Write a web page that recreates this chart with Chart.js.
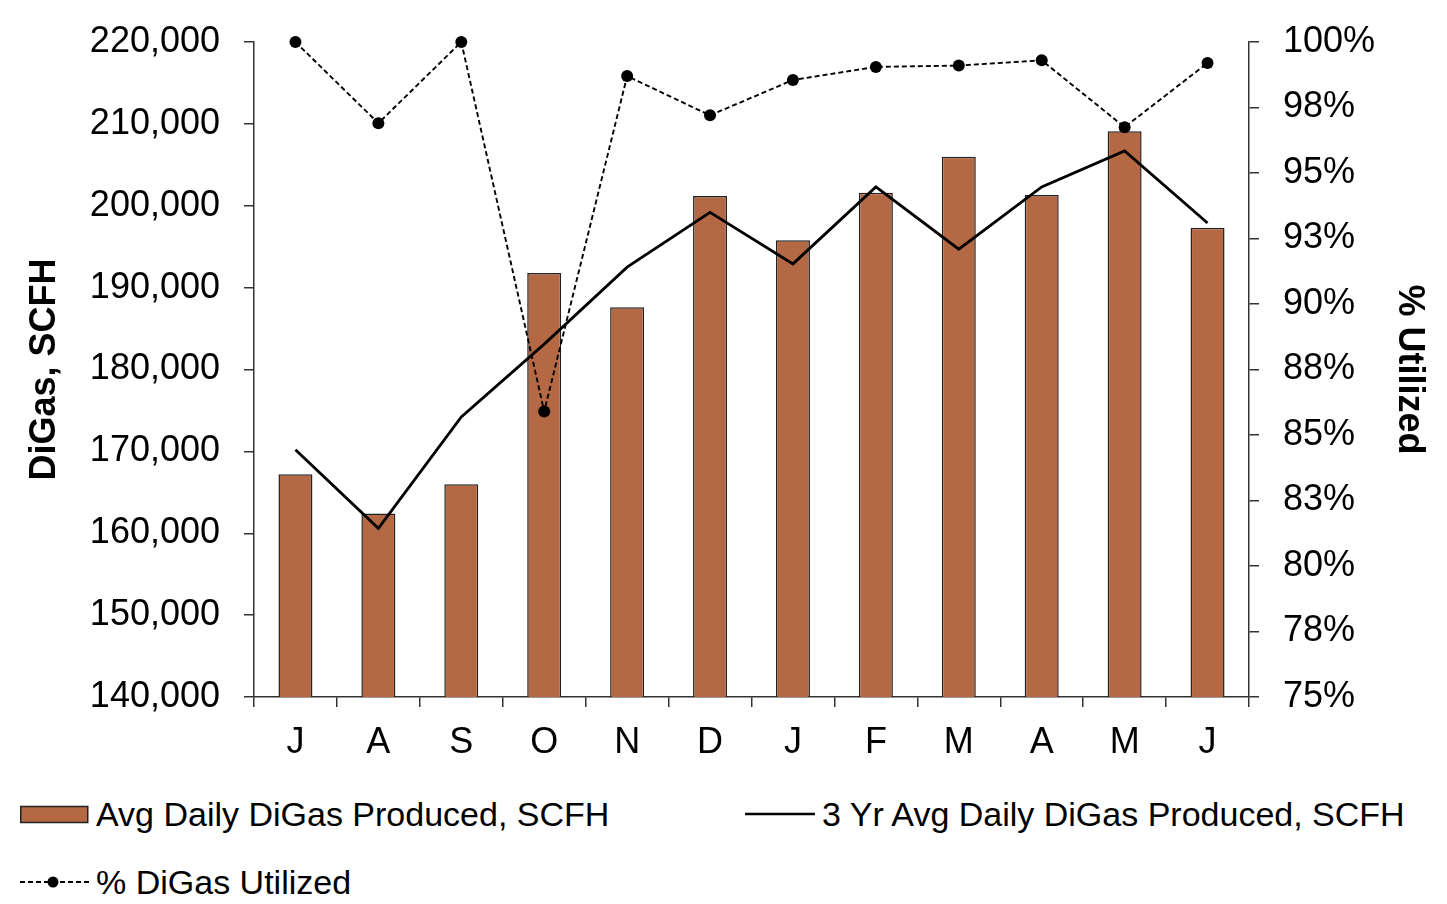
<!DOCTYPE html>
<html>
<head>
<meta charset="utf-8">
<script src="https://cdn.jsdelivr.net/npm/chart.js@4"></script>
<style>
    body { margin: 0; background: #fff; font-family: "Liberation Sans", Arial, sans-serif; }
    #wrap { position: relative; width: 1447px; height: 904px; }
    #box { position: absolute; left: 0; top: 0; width: 1447px; height: 770px; }
    .leg { position: absolute; font-size: 34px; color: #000; line-height: 40px; white-space: nowrap; }
    .leg svg { position: absolute; }
</style>
</head>
<body>
<div id="wrap">
    <div id="box"><canvas id="digasChart"></canvas></div>

    <div class="leg" style="left:20px; top:794px;">
        <svg width="70" height="20" style="left:0; top:11px;"><rect x="0.75" y="1.5" width="67" height="16" fill="#b46944" stroke="#222" stroke-width="1.5"/></svg>
        <span style="position:absolute; left:76px; top:0;">Avg Daily DiGas Produced, SCFH</span>
    </div>
    <div class="leg" style="left:745px; top:794px;">
        <svg width="72" height="20" style="left:0; top:10px;"><line x1="0" y1="10" x2="70" y2="10" stroke="#000" stroke-width="2.5"/></svg>
        <span style="position:absolute; left:77px; top:0;">3 Yr Avg Daily DiGas Produced, SCFH</span>
    </div>
    <div class="leg" style="left:20px; top:862px;">
        <svg width="72" height="20" style="left:0; top:10px;"><line x1="0" y1="10" x2="70" y2="10" stroke="#000" stroke-width="1.8" stroke-dasharray="5,3"/><circle cx="33" cy="10" r="5.5" fill="#000"/></svg>
        <span style="position:absolute; left:76px; top:0;">% DiGas Utilized</span>
    </div>
</div>

<script>
// months, July through June
const months = ['J', 'A', 'S', 'O', 'N', 'D', 'J', 'F', 'M', 'A', 'M', 'J'];

// SCFH
const avgDaily = [167200, 162400, 166000, 191800, 187600, 201200, 195800, 201600, 206000, 201300, 209100, 197300];
const threeYrAvg = [170200, 160600, 174200, 183100, 192500, 199200, 192900, 202300, 194700, 202300, 206700, 197900];

// percent
const pctUtilized = [100, 96.9, 100, 85.9, 98.7, 97.2, 98.55, 99.05, 99.1, 99.3, 96.75, 99.2];

const axisColor = '#333';
const tickFont = { family: '"Liberation Sans", Arial, sans-serif', size: 36 };
const titleFont = { family: '"Liberation Sans", Arial, sans-serif', size: 36, weight: 'bold' };

// fix the side axis width and drop the extra label padding above/below
function fitSide(width) {
    return function (scale) {
        scale.width = width;
        scale.paddingTop = 0;
        scale.paddingBottom = 0;
    };
}

document.addEventListener('DOMContentLoaded', function () {
    const ctx = document.getElementById('digasChart').getContext('2d');
    new Chart(ctx, {
        type: 'bar',
        data: {
            labels: months,
            datasets: [
                {
                    label: 'Avg Daily DiGas Produced, SCFH',
                    data: avgDaily,
                    backgroundColor: '#b46944',
                    borderColor: '#222',
                    borderWidth: 1.5,
                    barPercentage: 0.41,
                    categoryPercentage: 1,
                    yAxisID: 'y',
                    order: 3
                },
                {
                    type: 'line',
                    label: '3 Yr Avg Daily DiGas Produced, SCFH',
                    data: threeYrAvg,
                    borderColor: '#000',
                    borderWidth: 2.8,
                    pointRadius: 0,
                    tension: 0,
                    fill: false,
                    yAxisID: 'y',
                    order: 2
                },
                {
                    type: 'line',
                    label: '% DiGas Utilized',
                    data: pctUtilized,
                    borderColor: '#000',
                    borderWidth: 1.9,
                    borderDash: [5, 3],
                    pointRadius: 6,
                    pointBackgroundColor: '#000',
                    pointBorderWidth: 0,
                    tension: 0,
                    fill: false,
                    clip: false,
                    yAxisID: 'y1',
                    order: 1
                }
            ]
        },
        options: {
            responsive: true,
            maintainAspectRatio: false,
            animation: false,
            layout: { padding: { top: 42, bottom: 0, left: 0, right: 0 } },
            plugins: {
                legend: { display: false },
                tooltip: { enabled: false }
            },
            scales: {
                x: {
                    afterFit: function (scale) { scale.height = 73; },
                    grid: { display: true, drawOnChartArea: false, drawTicks: true, tickLength: 10, color: axisColor, lineWidth: 1.5 },
                    border: { display: true, color: axisColor, width: 1.5 },
                    ticks: { color: '#000', font: tickFont, padding: 14, maxRotation: 0, autoSkip: false }
                },
                y: {
                    position: 'left',
                    min: 140000,
                    max: 220000,
                    afterFit: fitSide(254),
                    grid: { display: true, drawOnChartArea: false, drawTicks: true, tickLength: 10, color: axisColor, lineWidth: 1.5 },
                    border: { display: true, color: axisColor, width: 1.5 },
                    ticks: {
                        stepSize: 10000,
                        color: '#000',
                        font: tickFont,
                        padding: 24,
                        callback: function (v) { return v.toLocaleString('en-US'); }
                    },
                    title: { display: true, text: 'DiGas, SCFH', color: '#000', font: titleFont, padding: { top: 23, bottom: 0 } }
                },
                y1: {
                    position: 'right',
                    min: 75,
                    max: 100,
                    afterFit: fitSide(198),
                    grid: { display: true, drawOnChartArea: false, drawTicks: true, tickLength: 10, color: axisColor, lineWidth: 1.5 },
                    border: { display: true, color: axisColor, width: 1.5 },
                    ticks: {
                        stepSize: 2.5,
                        color: '#000',
                        font: tickFont,
                        padding: 24,
                        callback: function (v) { return Math.round(v) + '%'; }
                    },
                    title: { display: true, text: '% Utilized', color: '#000', font: titleFont, padding: { top: 16, bottom: 0 } }
                }
            }
        }
    });
});
</script>
</body>
</html>
